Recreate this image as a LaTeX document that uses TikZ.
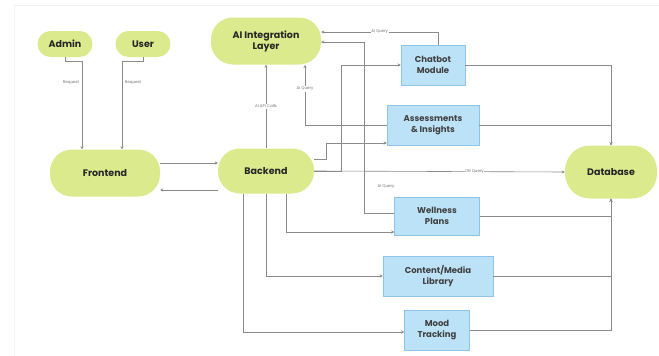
\documentclass[tikz,border=0pt]{standalone}
\usepackage{fontspec}
\setmainfont{Poppins}
\usetikzlibrary{arrows.meta}
\definecolor{gfill}{HTML}{DBEA8C}
\definecolor{bfill}{HTML}{BCE2F7}
\definecolor{bline}{HTML}{8EC5E6}
\definecolor{lcol}{HTML}{8A8A8A}
\tikzset{
  pill/.style={draw=none, fill=gfill, rounded corners=22pt, font=\bfseries\fontsize{9.5}{11}\selectfont, text=black!85, align=center, inner sep=0pt},
  box/.style={draw=bline, line width=0.5pt, fill=bfill, font=\bfseries\fontsize{8.5}{10.5}\selectfont, text=black!75, align=center, inner sep=0pt},
  conn/.style={draw=lcol, line width=0.6pt, -{Stealth[length=3pt,width=3pt]}},
  plain/.style={draw=lcol, line width=0.6pt},
  lbl/.style={font=\fontsize{4}{5}\selectfont, text=black!55, fill=white, inner sep=0.6pt}
}
\begin{document}
\begin{tikzpicture}[x=1pt,y=-1pt]
\useasboundingbox (0,0) rectangle (659,356);
\fill[white] (0,0) rectangle (659,356);
\draw[black!5, line width=0.6pt] (14,356) -- (14,5) -- (659,5);
% nodes
\node[pill, minimum width=55pt, minimum height=26pt, rounded corners=13pt] (admin) at (65,44) {Admin};
\node[pill, minimum width=55pt, minimum height=26pt, rounded corners=13pt] (user) at (143,44) {User};
\node[pill, minimum width=110pt, minimum height=47pt] (ai) at (266,41) {AI Integration\\Layer};
\node[pill, minimum width=110pt, minimum height=47pt] (frontend) at (105,173) {Frontend};
\node[pill, minimum width=96pt, minimum height=45pt] (backend) at (266,171) {Backend};
\node[pill, minimum width=92pt, minimum height=53pt, rounded corners=25pt] (db) at (611,172) {Database};
\node[box, minimum width=64pt, minimum height=40pt] (chat) at (433,65) {Chatbot\\Module};
\node[box, minimum width=92pt, minimum height=40pt] (assess) at (433,125) {Assessments\\\& Insights};
\node[box, minimum width=85pt, minimum height=38pt] (well) at (437,216) {Wellness\\Plans};
\node[box, minimum width=110pt, minimum height=40pt] (content) at (438,276) {Content/Media\\Library};
\node[box, minimum width=65pt, minimum height=40pt] (mood) at (437,330) {Mood\\Tracking};
% Admin / User -> Frontend
\draw[conn] (admin.south) -- ++(0,4) -| ([xshift=-23pt]frontend.north)
  node[lbl, pos=0.62, left=2pt, fill=none] {Request};
\draw[conn] (user.south) -- ++(0,4) -| ([xshift=17pt]frontend.north)
  node[lbl, pos=0.62, right=2pt, fill=none] {Request};
% Frontend <-> Backend
\draw[conn] ([yshift=10pt]frontend.east) -- (backend.west |- 0,163);
\draw[conn] (backend.west |- 0,190) -- (frontend.east |- 0,190);
% Backend -> AI
\draw[conn] (backend.north) -- (ai.south) node[lbl, midway] {AI API Calls};
% Chatbot -> AI
\draw[conn] ([xshift=5pt]chat.north) |- ([yshift=9pt]ai.east) node[lbl, pos=0.75] {AI Query};
% Wellness -> AI
\draw[conn] ([yshift=3pt]well.west) -- ++(-30,0) |- ([yshift=-1pt]ai.east);
\node[lbl, fill=none] (wq) at (386,187) {AI Query};
% Assessments -> AI
\draw[conn] (assess.west) -| ([xshift=39pt]ai.south |- 0,65) node[lbl, pos=0.8] {AI Query};
% Backend -> modules
\draw[conn] (backend.east) -- ++(27,0) |- (chat.west);
\draw[conn] ([yshift=12pt]backend.east) -- ++(12,0) |- ([yshift=-18pt]assess.west);
\draw[conn] (backend.east) -- (db.west) node[lbl, pos=0.64] {DB Query};
\draw[conn] ([xshift=20pt]backend.south) |- ([yshift=-16pt]well.west);
\draw[conn] (backend.south) |- (content.west);
\draw[conn] ([xshift=-23pt]backend.south) |- ([yshift=-2pt]mood.west);
% modules -> DB
\draw[conn] (chat.east) -| (db.north);
\draw[conn] (assess.east) -| (db.north);
\draw[conn] (well.east) -| (db.south);
\draw[conn] (content.east) -| (db.south);
\draw[conn] (mood.east) -| (db.south);
\end{tikzpicture}
\end{document}
